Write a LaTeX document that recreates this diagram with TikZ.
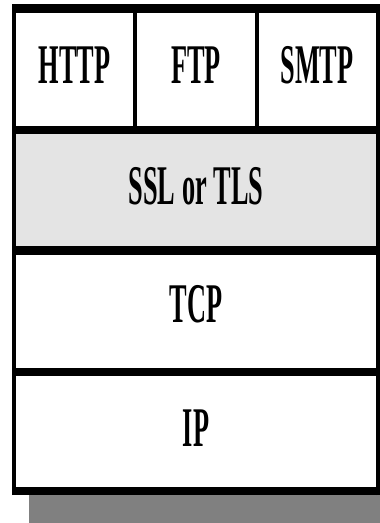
\documentclass[tikz,border=0pt]{standalone}
\usepackage{fontspec}
\setmainfont{Liberation Serif}
\usepackage{xcolor}
\usepackage{tikz}
\definecolor{sslfill}{HTML}{E4E4E4}
\definecolor{shadowgray}{HTML}{808080}
\begin{document}
\begin{tikzpicture}[x=1pt,y=1pt,
	layer/.style={font=\bfseries\fontsize{56}{56}\selectfont,xscale=0.47,inner sep=0pt},
	hrule/.style={line width=8.5pt},
	vrule/.style={line width=4pt}]
	\useasboundingbox (0,0) rectangle (380,523);
	% drop shadow and cell backgrounds
	\fill[shadowgray] (29,0) rectangle (380,40);
	\fill[white] (12,28) rectangle (380,519);
	\fill[sslfill] (14,393) rectangle (378,272.5);
	% rules between the layers
	\foreach \y in {514.5,393,272.5,151,32}
	\draw[hrule] (12,\y) -- (380,\y);
	\foreach \x in {14,378}
	\draw[vrule] (\x,27.75) -- (\x,518.75);
	\foreach \x in {135,257}
	\draw[vrule] (\x,393) -- (\x,514.5);
	% layer names
	\node[layer] (http) at (74.5,458) {HTTP};
	\node[layer] (ftp) at (196,458) {FTP};
	\node[layer] (smtp) at (317,458) {SMTP};
	\node[layer] (ssl) at (196,337) {SSL or TLS};
	\node[layer] (tcp) at (196,219) {TCP};
	\node[layer] (ip) at (196,95) {IP};
\end{tikzpicture}
\end{document}
